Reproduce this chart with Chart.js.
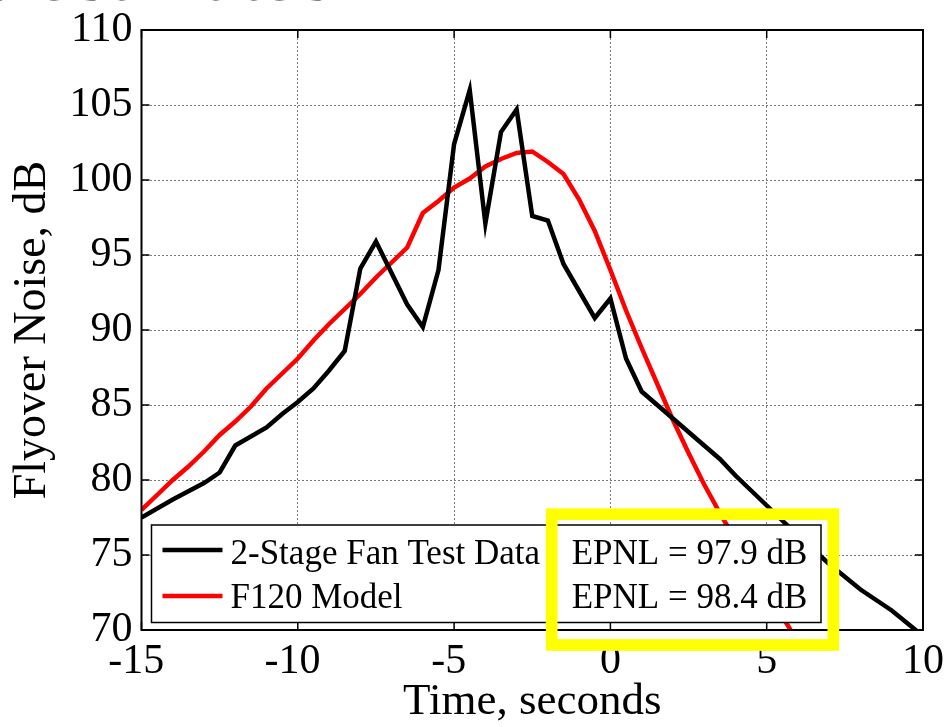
<!DOCTYPE html>
<html>
<head>
<meta charset="utf-8">
<title>Flyover Noise</title>
<script src="https://cdn.jsdelivr.net/npm/chart.js@4.4.1/dist/chart.umd.min.js"></script>
<style>
  html, body { margin: 0; padding: 0; background: #fff; overflow: hidden; }
  #wrap { position: relative; width: 951px; height: 727px; }
</style>
</head>
<body>
<div id="wrap"><canvas id="noiseChart" width="951" height="727"></canvas></div>
<script>
// Données (temps en s, bruit en dB)
const testTime = [-15, -14, -13, -12.5, -12, -11, -10.5, -10, -9.5, -9, -8.5, -8, -7.5, -6.5, -6, -5.5, -5, -4.5, -4, -3.5, -3, -2.5, -2, -1.5, -1, -0.5, 0, 0.5, 1, 1.5, 2, 2.5, 3, 3.5, 4, 4.5, 5, 6, 7, 8, 9, 10];
const testNoise = [77.5, 78.7, 79.8, 80.5, 82.3, 83.5, 84.4, 85.2, 86.1, 87.3, 88.6, 94.1, 95.9, 91.7, 90.2, 94.0, 102.4, 106.0, 97.1, 103.2, 104.7, 97.6, 97.3, 94.4, 92.6, 90.8, 92.1, 88.1, 85.9, 85.0, 84.1, 83.2, 82.3, 81.4, 80.3, 79.3, 78.3, 76.3, 74.4, 72.7, 71.3, 69.6];

const modelTime = [-15, -14.5, -14, -13.5, -13, -12.5, -12, -11.5, -11, -10.5, -10, -9.5, -9, -8.5, -8, -7.5, -7, -6.5, -6, -5.5, -5, -4.5, -4, -3.5, -3, -2.5, -2, -1.5, -1, -0.5, 0, 0.5, 1, 1.5, 2, 2.5, 3, 3.5, 4, 4.5, 5, 5.5, 6];
const modelNoise = [78.0, 79.0, 80.0, 80.9, 81.9, 83.0, 83.9, 84.9, 86.1, 87.1, 88.1, 89.3, 90.4, 91.4, 92.4, 93.5, 94.5, 95.5, 97.8, 98.6, 99.5, 100.1, 100.9, 101.4, 101.8, 101.9, 101.2, 100.4, 98.7, 96.6, 94.0, 91.3, 88.8, 86.4, 84.0, 81.8, 79.7, 77.8, 76.0, 74.3, 72.6, 70.9, 69.2];

const xTicks = [-15, -10, -5, 0, 5, 10];
const yTicks = [70, 75, 80, 85, 90, 95, 100, 105, 110];
const seriesNames = ['2-Stage Fan Test Data', 'F120 Model'];
const seriesColors = ['#000000', '#ff0000'];
const epnlLabels = ['EPNL = 97.9 dB', 'EPNL = 98.4 dB'];

const SERIF = '"Liberation Serif", "Times New Roman", serif';

// Cadre, graduations intérieures, légende et encadré jaune
const overlayPlugin = {
  id: 'overlay',
  afterDatasetsDraw(chart) {
    const { ctx, chartArea: ca, scales: { x, y } } = chart;
    ctx.save();

    // ticks vers l'intérieur sur les quatre côtés
    ctx.strokeStyle = '#000';
    ctx.lineWidth = 1.5;
    ctx.beginPath();
    xTicks.forEach(v => {
      const px = x.getPixelForValue(v);
      ctx.moveTo(px, ca.bottom); ctx.lineTo(px, ca.bottom - 8);
      ctx.moveTo(px, ca.top); ctx.lineTo(px, ca.top + 8);
    });
    yTicks.forEach(v => {
      const py = y.getPixelForValue(v);
      ctx.moveTo(ca.left, py); ctx.lineTo(ca.left + 8, py);
      ctx.moveTo(ca.right, py); ctx.lineTo(ca.right - 8, py);
    });
    ctx.stroke();

    // cadre
    ctx.lineWidth = 2;
    ctx.strokeRect(ca.left, ca.top, ca.right - ca.left, ca.bottom - ca.top);

    // boîte de légende
    const lx = ca.left + 10, ly = ca.bottom - 105;
    const lw = 669.5, lh = 97.5;
    ctx.fillStyle = '#fff';
    ctx.fillRect(lx, ly, lw, lh);
    ctx.lineWidth = 1.5;
    ctx.strokeStyle = '#000';
    ctx.strokeRect(lx, ly, lw, lh);

    ctx.font = '35px ' + SERIF;
    ctx.textBaseline = 'alphabetic';
    const rowLine = [25, 71];
    const rowBase = [39, 83];
    seriesNames.forEach((name, i) => {
      ctx.strokeStyle = seriesColors[i];
      ctx.lineWidth = 4.5;
      ctx.beginPath();
      ctx.moveTo(lx + 11, ly + rowLine[i]);
      ctx.lineTo(lx + 71, ly + rowLine[i]);
      ctx.stroke();
      ctx.fillStyle = '#000';
      ctx.textAlign = 'left';
      ctx.fillText(name, lx + 79, ly + rowBase[i]);
      ctx.textAlign = 'center';
      ctx.fillText(epnlLabels[i], lx + 538, ly + rowBase[i]);
    });

    // encadré jaune
    ctx.strokeStyle = '#ffff00';
    ctx.lineWidth = 11.7;
    ctx.strokeRect(ca.left + 410.2, ca.top + 484.2, 281.6, 130.8);

    ctx.restore();
  },
  afterDraw(chart) {
    // reste du titre de la diapositive, coupé en haut
    const { ctx } = chart;
    ctx.save();
    ctx.fillStyle = '#000';
    ctx.font = '70px "Liberation Sans", Arial, sans-serif';
    ctx.textAlign = 'left';
    ctx.textBaseline = 'alphabetic';
    ctx.fillText('s estimates', -20, 0);
    ctx.restore();
  }
};

const ctx = document.getElementById('noiseChart').getContext('2d');
const noiseChart = new Chart(ctx, {
  type: 'line',
  data: {
    datasets: [
      {
        label: seriesNames[0],
        data: testTime.map((t, i) => ({ x: t, y: testNoise[i] })),
        borderColor: seriesColors[0],
        borderWidth: 4.5,
        pointRadius: 0,
        tension: 0,
        fill: false,
        clip: 0
      },
      {
        label: seriesNames[1],
        data: modelTime.map((t, i) => ({ x: t, y: modelNoise[i] })),
        borderColor: seriesColors[1],
        borderWidth: 4.5,
        pointRadius: 0,
        tension: 0,
        fill: false,
        clip: 0
      }
    ]
  },
  options: {
    responsive: false,
    devicePixelRatio: 1,
    animation: false,
    layout: { padding: { top: 24, right: 23, left: 0, bottom: 0 } },
    plugins: {
      legend: { display: false },
      tooltip: { enabled: false }
    },
    scales: {
      x: {
        type: 'linear',
        min: -15,
        max: 10,
        afterBuildTicks: s => { s.ticks = xTicks.map(v => ({ value: v })); },
        afterFit: s => { s.height = 97; },
        ticks: {
          color: '#000',
          padding: 7,
          autoSkip: false,
          maxRotation: 0,
          font: { family: SERIF, size: 42, lineHeight: 1.2 },
          callback: v => (v < 0 ? v + ' ' : String(v))
        },
        grid: { color: '#7a7a7a', lineWidth: 1, drawTicks: false },
        border: { display: false, dash: [2, 2] },
        title: {
          display: true,
          text: 'Time, seconds',
          color: '#000',
          font: { family: SERIF, size: 45, lineHeight: 1.1 },
          padding: { top: 0, bottom: 0 }
        }
      },
      y: {
        min: 70,
        max: 110,
        afterBuildTicks: s => { s.ticks = yTicks.map(v => ({ value: v })); },
        afterFit: s => { s.width = 141.5; },
        ticks: {
          color: '#000',
          padding: 9,
          font: { family: SERIF, size: 42, lineHeight: 1 }
        },
        grid: { color: '#7a7a7a', lineWidth: 1, drawTicks: false },
        border: { display: false, dash: [2, 2] },
        title: {
          display: true,
          text: 'Flyover Noise, dB',
          color: '#000',
          font: { family: SERIF, size: 46, lineHeight: 1.1 },
          padding: { top: 8, bottom: 0 }
        }
      }
    }
  },
  plugins: [overlayPlugin]
});
</script>
</body>
</html>
